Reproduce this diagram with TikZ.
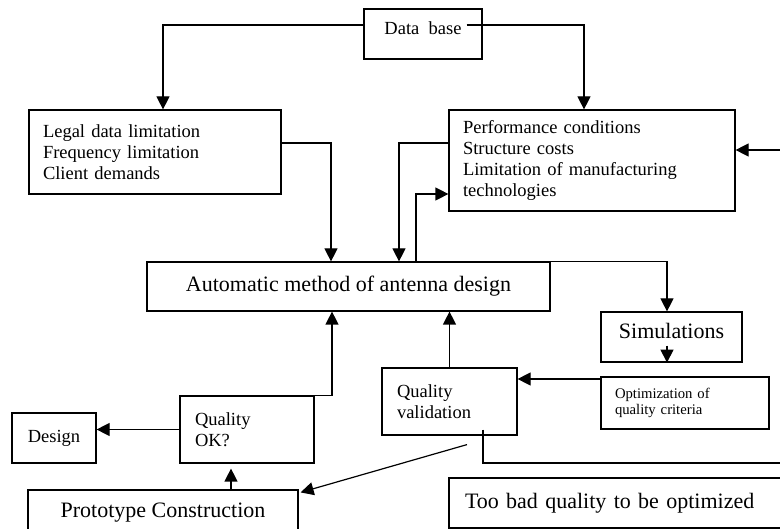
\documentclass[tikz,border=0pt]{standalone}
\usepackage{fontspec}
\setmainfont{Liberation Serif}
\usetikzlibrary{arrows.meta}
\begin{document}
\begin{tikzpicture}[x=1pt,y=-1pt,
	box/.style={draw,line width=1.2pt,inner sep=0pt,font=\fontsize{18.5}{21}\selectfont},
	lbox/.style={box,inner xsep=14pt,align=left},
	bigtxt/.style={font=\fontsize{22}{25}\selectfont},
	smalltxt/.style={font=\fontsize{14.7}{16}\selectfont},
	lnk/.style={line width=1.2pt},
	arr/.style={line width=1.2pt,-{Triangle[length=13pt,width=13pt]}}]
	
	\useasboundingbox (0,0) rectangle (780,529);
	
	\node[box,minimum width=118pt,minimum height=50pt,text depth=12pt] (db) at (423,34) {Data~ base};
	
	\node[lbox,minimum width=252pt,minimum height=84pt,text width=224pt] (leg) at (155,152)
	{Legal data limitation\\Frequency limitation\\Client demands};
	\node[lbox,minimum width=286pt,minimum height=101pt,text width=258pt] (perf) at (592,160.5)
	{Performance conditions\\Structure costs\\Limitation of manufacturing\\technologies};
	
	\node[box,bigtxt,minimum width=403pt,minimum height=49pt] (auto) at (348.5,286.5)
	{Automatic method of antenna design};
	\node[box,bigtxt,minimum width=141pt,minimum height=50pt,text depth=13pt] (sim) at (671.5,337) {Simulations};
	
	\node[lbox,smalltxt,minimum width=168pt,minimum height=52pt,text width=140pt] (opt) at (685,403)
	{Optimization of\\quality criteria};
	\node[lbox,inner xsep=15pt,minimum width=135pt,minimum height=67pt,text width=105pt] (qv) at (449.5,401.5)
	{Quality\\validation};
	\node[lbox,inner xsep=15pt,minimum width=134pt,minimum height=67pt,text width=104pt] (qok) at (247,429.5)
	{Quality\\OK?};
	\node[box,minimum width=84pt,minimum height=50pt] (des) at (54,438) {Design};
	
	\node[box,bigtxt,minimum width=270pt,minimum height=56pt,text depth=15pt] (proto) at (163,518)
	{Prototype Construction};
	\node[lbox,bigtxt,inner xsep=16pt,minimum width=351pt,minimum height=50pt,text width=319pt] (bad) at (624.5,503)
	{Too bad quality to be optimized};
	
	\coordinate (edgeA) at (780,150);
	\coordinate (edgeB) at (780,463);
	
	\draw[arr] ([yshift=9pt]db.west) -| ([xshift=8pt]leg.north);
	\draw[arr] ([xshift=-16pt,yshift=9pt]db.east) -| ([xshift=-8pt]perf.north);
	
	\draw[arr] ([yshift=9pt]leg.east) -| ([xshift=-17.5pt]auto.north);
	\draw[arr] ([yshift=17.5pt]perf.west) -| ([xshift=50.5pt]auto.north);
	\draw[arr] ([xshift=67.5pt]auto.north) |- ([yshift=-33.5pt]perf.west);
	\draw[arr] (edgeA) -- ([yshift=10.5pt]perf.east);
	
	\draw[arr] (auto.north east) -| ([xshift=-4.5pt]sim.north);
	\draw[arr] ([xshift=-4.5pt,yshift=17pt]sim.south) -- ([xshift=-4.5pt]sim.south);
	
	\draw[arr] ([yshift=24pt]opt.west) -- ([yshift=22.5pt]qv.east);
	\draw[arr] (qv.north) -- (qv.north |- auto.south);
	\draw[arr] (qok.north east) -| ([xshift=-16.5pt]auto.south);
	\draw[arr] (qok.west) -- (qok.west -| des.east);
	
	\draw[arr] ([xshift=68pt]proto.north) -- ([xshift=-16pt,yshift=-5pt]qok.south);
	\draw[arr] ([xshift=17.5pt,yshift=-9pt]qv.south) -- ([xshift=2pt,yshift=-3pt]proto.north east);
	\draw[lnk] ([xshift=33.5pt,yshift=6pt]qv.south) |- (edgeB);
	
\end{tikzpicture}
\end{document}
